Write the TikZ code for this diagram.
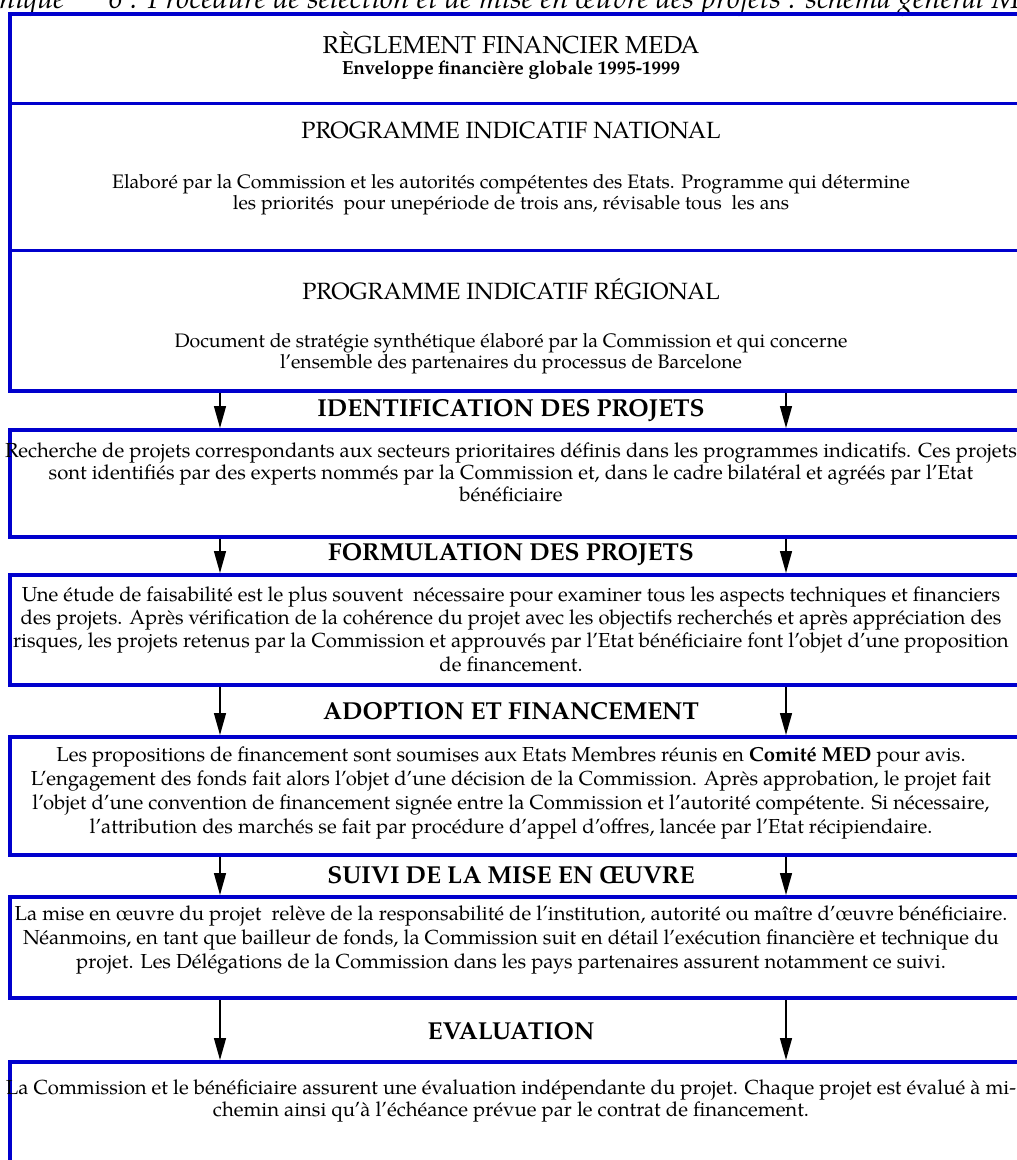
\documentclass[tikz,border=0pt]{standalone}
\usepackage{fontspec}
\setmainfont{texgyrepagella}[Extension=.otf, UprightFont=*-regular, BoldFont=*-bold, ItalicFont=*-italic, BoldItalicFont=*-bolditalic]
\usetikzlibrary{arrows.meta}
\definecolor{frameblue}{RGB}{0,0,205}
\tikzset{
  boxarea/.style={inner sep=0pt, outer sep=0pt, minimum width=1030pt},
  boxframe/.style={draw=frameblue, line width=4.5pt},
  boxdivider/.style={draw=frameblue, line width=3pt},
  flowarrow/.style={draw=black, line width=1.4pt, -{Triangle[length=22pt,width=12pt]}},
  headtext/.style={font=\fontsize{24.5}{28}\selectfont\bfseries, inner sep=0pt},
  titletext/.style={font=\fontsize{#1}{28}\selectfont, inner sep=0pt},
  titletext/.default=23.5,
  subtext/.style={font=\fontsize{19}{22}\selectfont\bfseries, inner sep=0pt},
  bodytext/.style={font=\fontsize{20.3}{#1}\selectfont, align=center, inner sep=0pt},
  bodytext/.default=23.5,
  topbody/.style={font=\fontsize{19.5}{21}\selectfont, align=center, inner sep=0pt},
  captext/.style={font=\fontsize{29.5}{32}\selectfont\itshape, inner sep=0pt, anchor=base west},
}
\begin{document}
\begin{tikzpicture}[x=1pt,y=-1pt]
\useasboundingbox (0,0) rectangle (1017,1160);
\clip (0,0) rectangle (1017,1160);
\fill[white] (0,0) rectangle (1017,1160);

% clipped caption at the top
\node[captext] (capA) at (-1,8) {nique};
\node[captext] (capB) at (108,8) {6 : Procédure de sélection et de mise en œuvre des projets : schéma général MEDA};

% box areas
\node[boxarea, minimum height=377pt] (b0) at (525,202.5) {};
\node[boxarea, minimum height=107pt] (b2) at (525,483.5) {};
\node[boxarea, minimum height=110pt] (b3) at (525,630) {};
\node[boxarea, minimum height=118pt] (b4) at (525,796) {};
\node[boxarea, minimum height=101pt] (b5) at (525,947.5) {};
\node[boxarea, minimum height=128pt] (b6) at (525,1126) {};

% dividers in the top group
\draw[boxdivider] ([yshift=-89pt]b0.north west) -- ([yshift=-89pt]b0.north east);
\draw[boxdivider] ([yshift=-236pt]b0.north west) -- ([yshift=-236pt]b0.north east);

% frames
\foreach \b in {b0,b2,b3,b4,b5,b6}{
  \draw[boxframe, line join=miter] (\b.north east) -- (\b.north west) -- (\b.south west) -- (\b.south east);
}

% top group texts
\node[titletext=24.5] (t1) at (511,43) {RÈGLEMENT FINANCIER MEDA};
\node[subtext] (t1s) at (511,70) {Enveloppe financière globale 1995-1999};
\node[titletext] (t2) at (511,130) {PROGRAMME INDICATIF NATIONAL};
\node[topbody] (t2b) at (511,195) {Elaboré par la Commission et les autorités compétentes des Etats. Programme qui détermine\\les priorités~ pour unepériode de trois ans, révisable tous~ les ans};
\node[titletext] (t3) at (511,289) {PROGRAMME INDICATIF RÉGIONAL};
\node[topbody] (t3b) at (511,354) {Document de stratégie synthétique élaboré par la Commission et qui concerne\\l'ensemble des partenaires du processus de Barcelone};

% headings
\node[headtext] (h1) at (511,411) {IDENTIFICATION DES PROJETS};
\node[headtext] (h2) at (511,555) {FORMULATION DES PROJETS};
\node[headtext] (h3) at (511,711) {ADOPTION ET FINANCEMENT};
\node[headtext] (h4) at (511,875) {SUIVI DE LA MISE EN ŒUVRE};
\node[headtext] (h5) at (511,1031) {EVALUATION};

% box texts
\node[bodytext=22] (x2) at (511,472) {Recherche de projets correspondants aux secteurs prioritaires définis dans les programmes indicatifs. Ces projets\\sont identifiés par des experts nommés par la Commission et, dans le cadre bilatéral et agréés par l'Etat\\bénéficiaire};
\node[bodytext=23.3] (x3) at (511,629) {Une étude de faisabilité est le plus souvent~ nécessaire pour examiner tous les aspects techniques et financiers\\des projets. Après vérification de la cohérence du projet avec les objectifs recherchés et après appréciation des\\risques, les projets retenus par la Commission et approuvés par l'Etat bénéficiaire font l'objet d'une proposition\\de financement.};
\node[bodytext=24] (x4) at (511,793) {Les propositions de financement sont soumises aux Etats Membres réunis en \textbf{Comité MED} pour avis.\\L'engagement des fonds fait alors l'objet d'une décision de la Commission. Après approbation, le projet fait\\l'objet d'une convention de financement signée entre la Commission et l'autorité compétente. Si nécessaire,\\l'attribution des marchés se fait par procédure d'appel d'offres, lancée par l'Etat récipiendaire.};
\node[bodytext=24] (x5) at (511,940) {La mise en œuvre du projet~ relève de la responsabilité de l'institution, autorité ou maître d'œuvre bénéficiaire.\\Néanmoins, en tant que bailleur de fonds, la Commission suit en détail l'exécution financière et technique du\\projet. Les Délégations de la Commission dans les pays partenaires assurent notamment ce suivi.};
\node[bodytext=22] (x6) at (511,1101) {La Commission et le bénéficiaire assurent une évaluation indépendante du projet. Chaque projet est évalué à mi-\\chemin ainsi qu'à l'échéance prévue par le contrat de financement.};

% arrows
\foreach \u/\v in {b0/b2,b2/b3,b3/b4,b4/b5,b5/b6}{
  \draw[flowarrow] ([xshift=210pt,yshift=-2pt]\u.south west) -- ([xshift=210pt,yshift=2pt]\v.north west);
  \draw[flowarrow] ([xshift=776pt,yshift=-2pt]\u.south west) -- ([xshift=776pt,yshift=2pt]\v.north west);
}
\end{tikzpicture}
\end{document}
